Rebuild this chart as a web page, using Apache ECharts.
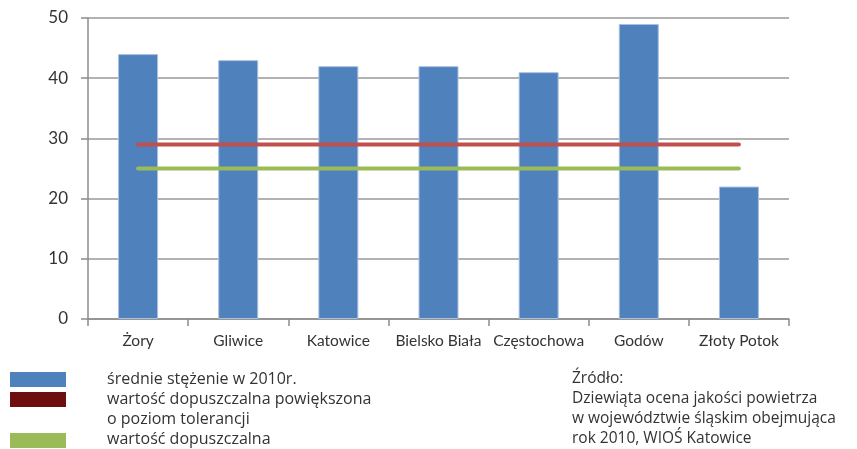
<!DOCTYPE html>
<html>
	<head>
		<meta charset="utf-8" />
		<title>Stężenie</title>
		<script src="https://cdn.jsdelivr.net/npm/echarts@6/dist/echarts.min.js"></script>
		<style>
			html, body { margin: 0; padding: 0; background: #fff; }
			#chart { width: 857px; height: 449px; }
		</style>
	</head>
	<body>
		<div id="chart"></div>
	<script type="text/javascript">
		// dane
		var miasta = ['Żory', 'Gliwice', 'Katowice', 'Bielsko Biała', 'Częstochowa', 'Godów', 'Złoty Potok'];
		var stezenie = [44, 43, 42, 42, 41, 49, 22];
		var tolerancja = [29, 29, 29, 29, 29, 29, 29];
		var dopuszczalna = [25, 25, 25, 25, 25, 25, 25];
		var yTicks = [0, 10, 20, 30, 40, 50];

		var myChart = echarts.init(document.getElementById('chart'));
		var txt = '#333';

		var option = {
			animation: false,
			grid: { left: 88, right: 68, top: 18, bottom: 130 },
			xAxis: {
				type: 'category',
				data: miasta,
				axisLine: { lineStyle: { color: '#8c8c8c', width: 1.5 } },
				axisTick: { show: true, length: 7, lineStyle: { color: '#8c8c8c', width: 1.5 } },
				axisLabel: { interval: 0, margin: 14, color: txt, fontFamily: 'Lato', fontSize: 15.5 }
			},
			yAxis: {
				type: 'value',
				min: yTicks[0],
				max: yTicks[yTicks.length - 1],
				interval: 10,
				axisLine: { show: true, lineStyle: { color: '#8c8c8c', width: 1.5 } },
				axisTick: { show: true, length: 7, inside: false, lineStyle: { color: '#8c8c8c', width: 1.5 } },
				axisLabel: { margin: 20, color: txt, fontFamily: 'Lato', fontSize: 17 },
				splitLine: { lineStyle: { color: '#999', width: 1.5 } }
			},
			series: [
				{
					name: 'średnie stężenie w 2010r.',
					type: 'bar',
					data: stezenie,
					barWidth: 40,
					itemStyle: { color: '#4F81BD', borderColor: '#a9c1e0', borderWidth: 1 }
				},
				{
					name: 'wartość dopuszczalna powiększona o poziom tolerancji',
					type: 'line',
					data: tolerancja,
					symbol: 'none',
					lineStyle: { color: '#C0504D', width: 4, cap: 'round' }
				},
				{
					name: 'wartość dopuszczalna',
					type: 'line',
					data: dopuszczalna,
					symbol: 'none',
					lineStyle: { color: '#9BBB59', width: 4, cap: 'round' }
				}
			],
			// legenda i źródło
			graphic: [
				{ type: 'rect', left: 10, top: 372, shape: { width: 56, height: 15 }, style: { fill: '#4F81BD' } },
				{ type: 'rect', left: 10, top: 392, shape: { width: 56, height: 15 }, style: { fill: '#6F0E0E' } },
				{ type: 'rect', left: 10, top: 433, shape: { width: 56, height: 15 }, style: { fill: '#9BBB59' } },
				{ type: 'text', left: 107, top: 369, style: { text: 'średnie stężenie w 2010r.\nwartość dopuszczalna powiększona\no poziom tolerancji\nwartość dopuszczalna', fill: txt, font: '16px "Open Sans"', lineHeight: 20 } },
				{ type: 'text', left: 572, top: 369, style: { text: 'Źródło:\nDziewiąta ocena jakości powietrza\nw województwie śląskim obejmująca\nrok 2010, WIOŚ Katowice', fill: txt, font: '15.5px "Open Sans"', lineHeight: 20 } }
			]
		};

		myChart.setOption(option);
	</script>
	</body>
</html>
